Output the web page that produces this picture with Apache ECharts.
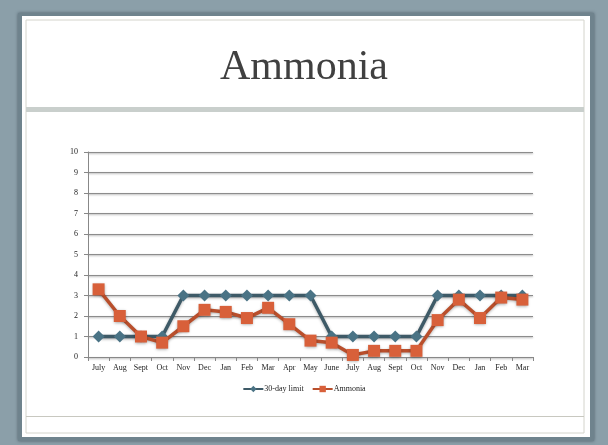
<!DOCTYPE html>
<html>
<head>
<meta charset="utf-8">
<script src="https://cdn.jsdelivr.net/npm/echarts@6/dist/echarts.min.js"></script>
<style>
  html, body { margin: 0; padding: 0; }
  #main { width: 608px; height: 445px; }
</style>
</head>
<body>
<div id="main"></div>
<script>
// months, July through March of the following year (two seasons)
const months = ['July', 'Aug', 'Sept', 'Oct', 'Nov', 'Dec', 'Jan', 'Feb', 'Mar', 'Apr', 'May',
  'June', 'July', 'Aug', 'Sept', 'Oct', 'Nov', 'Dec', 'Jan', 'Feb', 'Mar'];
const limit30 = [1, 1, 1, 1, 3, 3, 3, 3, 3, 3, 3, 1, 1, 1, 1, 1, 3, 3, 3, 3, 3];
const ammonia = [3.3, 2.0, 1.0, 0.7, 1.5, 2.3, 2.2, 1.9, 2.4, 1.6, 0.8, 0.7, 0.1, 0.3, 0.3, 0.3, 1.8, 2.8, 1.9, 2.9, 2.8];
const yTicks = { min: 0, max: 10, step: 1 };

const serif = '"Liberation Serif", "DejaVu Serif", serif';

let myChart = echarts.init(document.getElementById('main'));

let option = {
  backgroundColor: '#8b9fa9',
  animation: false,
  title: {
    text: 'Ammonia',
    left: 'center',
    top: 42,
    textStyle: { fontFamily: serif, fontSize: 42, fontWeight: 'normal', color: '#404040' }
  },
  graphic: [
    // dark rim around the slide
    { type: 'rect', z: -11, shape: { x: 18, y: 13, width: 576, height: 428 },
      style: { fill: '#6f838d', shadowBlur: 3, shadowColor: 'rgba(40,55,65,0.6)' } },
    // slide page
    { type: 'rect', z: -10, shape: { x: 22, y: 16, width: 568, height: 421 },
      style: { fill: '#ffffff' } },
    // inner frame line
    { type: 'rect', z: -9, shape: { x: 26, y: 20, width: 558, height: 413 },
      style: { fill: 'none', stroke: '#d4d4cc', lineWidth: 1 } },
    // band under the title
    { type: 'rect', z: -9, shape: { x: 26, y: 107, width: 558, height: 5 },
      style: { fill: '#c9cfcc' } },
    // footer line
    { type: 'line', z: -9, shape: { x1: 26, y1: 416.5, x2: 584, y2: 416.5 },
      style: { stroke: '#c8c8c0', lineWidth: 1 } }
  ],
  legend: {
    top: 380,
    left: 'center',
    itemWidth: 20,
    itemHeight: 8,
    itemGap: 8,
    textStyle: { fontFamily: serif, fontSize: 8, color: '#222', padding: [0, 0, 0, -4] },
    data: ['30-day limit', 'Ammonia']
  },
  grid: { left: 88, right: 75, top: 152, bottom: 88 },
  xAxis: {
    type: 'category',
    data: months,
    boundaryGap: true,
    axisLine: { lineStyle: { color: '#888', width: 1 } },
    axisTick: { show: true, length: 4, lineStyle: { color: '#888' } },
    axisLabel: { fontFamily: serif, fontSize: 8, color: '#222', margin: 7, interval: 0 }
  },
  yAxis: {
    type: 'value',
    min: yTicks.min,
    max: yTicks.max,
    interval: yTicks.step,
    axisLine: { show: true, lineStyle: { color: '#888', width: 1 } },
    axisTick: { show: true, length: 4, lineStyle: { color: '#888' } },
    axisLabel: { fontFamily: serif, fontSize: 8, color: '#222', margin: 10 },
    splitLine: {
      lineStyle: { color: '#8c8c8c', width: 1, shadowColor: 'rgba(0,0,0,0.35)', shadowBlur: 2, shadowOffsetY: 1 }
    }
  },
  series: [
    {
      name: '30-day limit',
      type: 'line',
      data: limit30,
      symbol: 'diamond',
      symbolSize: 12,
      itemStyle: { color: '#4a7385' },
      lineStyle: { color: '#3e5a67', width: 3.5, shadowColor: 'rgba(0,0,0,0.3)', shadowBlur: 3, shadowOffsetY: 1 },
      z: 2
    },
    {
      name: 'Ammonia',
      type: 'line',
      data: ammonia,
      symbol: 'rect',
      symbolSize: 12,
      itemStyle: { color: '#d8603a', shadowColor: 'rgba(0,0,0,0.35)', shadowBlur: 3, shadowOffsetY: 1 },
      lineStyle: { color: '#b94f2c', width: 3.5, shadowColor: 'rgba(0,0,0,0.3)', shadowBlur: 3, shadowOffsetY: 1 },
      z: 3
    }
  ]
};
option && myChart.setOption(option);
</script>
</body>
</html>
